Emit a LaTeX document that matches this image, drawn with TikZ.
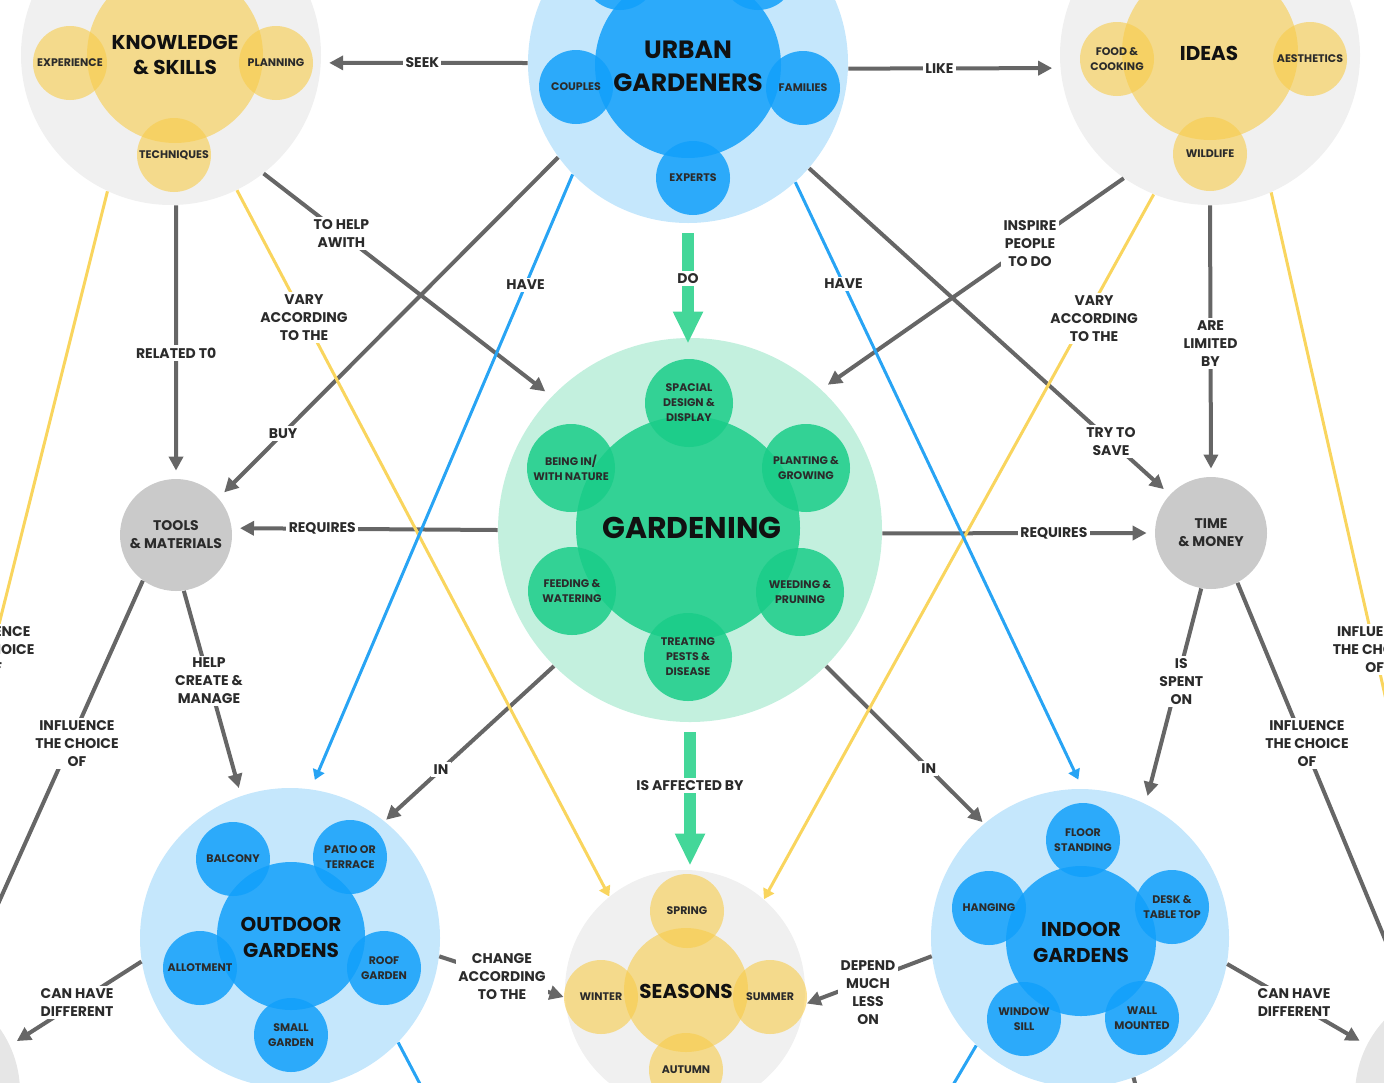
\documentclass[tikz,border=0pt]{standalone}
\usepackage{fontspec}
\setmainfont{Poppins}
\usetikzlibrary{arrows.meta}
\definecolor{greyhalo}{HTML}{F0F0F0}
\definecolor{greyside}{HTML}{E6E6E6}
\definecolor{greytool}{HTML}{CACACA}
\definecolor{bluehalo}{HTML}{C5E7FC}
\definecolor{bluecore}{HTML}{12A0FA}
\definecolor{greenhalo}{HTML}{C3F0DE}
\definecolor{greencore}{HTML}{1ACD89}
\definecolor{yellowcore}{HTML}{F8CC4A}
\definecolor{greyline}{HTML}{666666}
\definecolor{yellowline}{HTML}{F9D55E}
\definecolor{blueline}{HTML}{28A4F4}
\definecolor{greenarrow}{HTML}{44D799}
\definecolor{txtdark}{HTML}{2B2B2B}
\definecolor{txtblack}{HTML}{111111}
\newcommand{\edgefont}{\fontsize{7}{9}\selectfont\bfseries}
\newcommand{\bubblefont}{\fontsize{5.5}{7.5}\selectfont\bfseries}
\newcommand{\titlefont}[2]{\fontsize{#1}{#2}\selectfont\bfseries}
\begin{document}
\begin{tikzpicture}
[x=0.5pt,y=-0.5pt,
 halo/.style={shape=circle,inner sep=0pt,fill=#1},
 core/.style={shape=circle,inner sep=0pt,fill=#1,fill opacity=.85},
 sub/.style={shape=circle,inner sep=0pt,minimum size=37pt,fill=#1,fill opacity=.85,
   text opacity=1,text=txtdark,align=center,font=\bubblefont},
 subblue/.style={sub=bluecore},
 subgreen/.style={sub=greencore,minimum size=44pt},
 subyellow/.style={sub=yellowcore,fill opacity=.6},
 title/.style={align=center,inner sep=0pt,text=txtblack},
 lbl/.style={fill=white,inner sep=1.2pt,align=center,text=txtdark,font=\edgefont},
 greyedge/.style={draw=greyline,line width=2pt,-{Triangle[length=7pt,width=7pt]},shorten >=4pt},
 yellowedge/.style={draw=yellowline,line width=1.5pt,-{Triangle[length=5pt,width=6pt]}},
 blueedge/.style={draw=blueline,line width=1.5pt,-{Triangle[length=5pt,width=6pt]},shorten >=5pt},
 greenedge/.style={draw=greenarrow,line width=6pt,-{Triangle[length=16pt,width=14pt]},shorten <=5pt}]
\useasboundingbox (0,0) rectangle (1384,1082);
\clip (0,0) rectangle (1384,1082);
% nodes or circles
% knowledge & skills
\node (know) at (171,55) [halo=greyhalo,minimum size=150pt] {};
\node (knowcore) at (175,55) [core=yellowcore,fill opacity=.6,minimum size=88pt] {};
\node (experience) at (70,63) [subyellow] {EXPERIENCE};
\node (planning) at (276,63) [subyellow] {PLANNING};
\node (techniques) at (174,155) [subyellow] {TECHNIQUES};
\node (knowtext) at (175,55) [title,font=\titlefont{10}{12.5}] {KNOWLEDGE\\\& SKILLS};
% urban gardeners
\node (urban) at (688,63) [halo=bluehalo,minimum size=160pt] {};
\node (urbancore) at (688,65) [core=bluecore,minimum size=93pt] {};
\node (urbantopl) at (620,-27) [subblue] {};
\node (urbantopr) at (758,-27) [subblue] {};
\node (couples) at (576,87) [subblue] {COUPLES};
\node (families) at (803,88) [subblue] {FAMILIES};
\node (experts) at (693,178) [subblue] {EXPERTS};
\node (urbantext) at (688,66) [title,font=\titlefont{12.5}{16.5}] {URBAN\\GARDENERS};
% ideas
\node (ideas) at (1210,55) [halo=greyhalo,minimum size=150pt] {};
\node (ideascore) at (1210,52) [core=yellowcore,fill opacity=.6,minimum size=88pt] {};
\node (food) at (1117,59) [subyellow] {FOOD \&\\COOKING};
\node (aesthetics) at (1310,59) [subyellow] {AESTHETICS};
\node (wildlife) at (1210,154) [subyellow] {WILDLIFE};
\node (ideastext) at (1209,53) [title,font=\titlefont{10}{12.5}] {IDEAS};
% gardening
\node (garden) at (690,530) [halo=greenhalo,minimum size=192pt] {};
\node (gardencore) at (688,528) [core=greencore,minimum size=112pt] {};
\node (spacial) at (689,403) [subgreen] {SPACIAL\\DESIGN \&\\DISPLAY};
\node (planting) at (806,468) [subgreen] {PLANTING \&\\GROWING};
\node (weeding) at (800,592) [subgreen] {WEEDING \&\\PRUNING};
\node (treating) at (688,657) [subgreen] {TREATING\\PESTS \&\\DISEASE};
\node (feeding) at (572,591) [subgreen] {FEEDING \&\\WATERING};
\node (being) at (571,468) [subgreen] {BEING IN/\\WITH NATURE};
\node (gardentext) at (692,528) [title,font=\titlefont{15}{18}] {GARDENING};
% tools, time
\node (tools) at (176,535) [halo=greytool,minimum size=56pt,align=center,text=txtdark,font=\edgefont] {TOOLS\\\& MATERIALS};
\node (timem) at (1211,533) [halo=greytool,minimum size=56pt,align=center,text=txtdark,font=\edgefont] {TIME\\\& MONEY};
% outdoor gardens
\node (outdoor) at (290,938) [halo=bluehalo,minimum size=150pt] {};
\node (outdoorcore) at (291,936) [core=bluecore,minimum size=74pt] {};
\node (balcony) at (233,859) [subblue] {BALCONY};
\node (patio) at (350,857) [subblue] {PATIO OR\\TERRACE};
\node (roof) at (384,968) [subblue] {ROOF\\GARDEN};
\node (smallgarden) at (291,1035) [subblue] {SMALL\\GARDEN};
\node (allotment) at (200,968) [subblue] {ALLOTMENT};
\node (outdoortext) at (291,937) [title,font=\titlefont{10}{13}] {OUTDOOR\\GARDENS};
% seasons
\node (seasons) at (685,990) [halo=greyhalo,minimum size=120pt] {};
\node (seasonscore) at (686,990) [core=yellowcore,fill opacity=.6,minimum size=62pt] {};
\node (spring) at (687,911) [subyellow] {SPRING};
\node (winter) at (601,997) [subyellow] {WINTER};
\node (summer) at (770,997) [subyellow] {SUMMER};
\node (autumn) at (686,1070) [subyellow] {AUTUMN};
\node (seasonstext) at (686,991) [title,font=\titlefont{10}{13}] {SEASONS};
% indoor gardens
\node (indoor) at (1080,938) [halo=bluehalo,minimum size=149pt] {};
\node (indoorcore) at (1081,941) [core=bluecore,minimum size=75pt] {};
\node (floor) at (1083,840) [subblue] {FLOOR\\STANDING};
\node (hanging) at (989,908) [subblue] {HANGING};
\node (desk) at (1172,907) [subblue] {DESK \&\\TABLE TOP};
\node (window) at (1024,1019) [subblue] {WINDOW\\SILL};
\node (wall) at (1142,1018) [subblue] {WALL\\MOUNTED};
\node (indoortext) at (1081,942) [title,font=\titlefont{10}{13}] {INDOOR\\GARDENS};
% partly shown circles at the edges
\node (leftside) at (-90,1092) [halo=greyside,minimum size=110pt] {};
\node (rightside) at (1465,1095) [halo=greyside,minimum size=110pt] {};
\coordinate (offl) at (-60,860);
\coordinate (offr) at (1420,850);
\coordinate (offll) at (-45,1000);
\coordinate (offrr) at (1430,1048);
\coordinate (offout) at (460,1160);
\coordinate (offin) at (906,1165);
\coordinate (offin2) at (1160,1180);
% edges or lines
\path
(urban.180) edge[greyedge] node[lbl,pos=.51] {SEEK} (know.-3)
(urban.-2) edge[greyedge] node[lbl,pos=.43] {LIKE} (ideas.185)
(know.-88) edge[greyedge] node[lbl,pos=.54] {RELATED T0} (tools.north)
(know.-52) edge[greyedge] node[lbl,pos=.27] {TO HELP\\AWITH} (garden.136)
(urban.216) edge[greyedge] node[lbl,pos=.81] {BUY} (tools.41)
(urban.-41) edge[greyedge] node[lbl,pos=.837] {TRY TO\\SAVE} (timem.137)
(ideas.235) edge[greyedge] node[lbl,pos=.31] {INSPIRE\\PEOPLE\\TO DO} (garden.47)
(ideas.south) edge[greyedge] node[lbl,pos=.51] {ARE\\LIMITED\\BY} (timem.north)
(garden.180.5) edge[greyedge] node[lbl,pos=.66] {REQUIRES} (tools.7)
(garden.-1) edge[greyedge] node[lbl,pos=.63] {REQUIRES} (timem.west)
(garden.225) edge[greyedge,shorten >=1pt] node[lbl,pos=.667] {IN} (outdoor.51)
(garden.-45) edge[greyedge,shorten >=1pt] node[lbl,pos=.65] {IN} (indoor.130)
(tools.-82) edge[greyedge] node[lbl,pos=.44] {HELP\\CREATE \&\\MANAGE} (outdoor.109)
(tools.234) edge[greyedge] node[lbl,pos=.388,xshift=3.5pt] {INFLUENCE\\THE CHOICE\\OF} (offll)
(timem.260) edge[greyedge] node[lbl,pos=.43,xshift=2pt] {IS\\SPENT\\ON} (indoor.64)
(timem.-62) edge[greyedge] node[lbl,pos=.345,xshift=1.5pt] {INFLUENCE\\THE CHOICE\\OF} (offrr)
(outdoor.189) edge[greyedge] node[lbl,pos=.49] {CAN HAVE\\DIFFERENT} (leftside.25)
(indoor.-10) edge[greyedge] node[lbl,pos=.48] {CAN HAVE\\DIFFERENT} (rightside.153)
(outdoor.-7) edge[greyedge,shorten >=0pt] node[lbl,pos=.504] {CHANGE\\ACCORDING\\TO THE} (winter.west)
(indoor.187) edge[greyedge,shorten >=0pt] node[lbl,pos=.51,yshift=-6pt] {DEPEND\\MUCH\\LESS\\ON} (summer.-10)
(indoor.-69) edge[greyedge] (offin2)
(know.-64) edge[yellowedge] node[lbl,pos=.18] {VARY\\ACCORDING\\TO THE} (seasons.129)
(ideas.248) edge[yellowedge] node[lbl,pos=.176,xshift=4.5pt] {VARY\\ACCORDING\\TO THE} (seasons.49)
(know.245) edge[yellowedge] node[lbl,pos=.685] {INFLUENCE\\THE CHOICE\\OF} (offl)
(ideas.-66) edge[yellowedge] node[lbl,pos=.695] {INFLUENCE\\THE CHOICE\\OF} (offr)
(urban.224) edge[blueedge] node[lbl,pos=.18] {HAVE} (outdoor.82)
(urban.-48) edge[blueedge] node[lbl,pos=.168] {HAVE} (indoor.89)
(outdoor.-44) edge[blueedge] (offout)
(indoor.226) edge[blueedge] (offin)
(urban.south) edge[greenedge,shorten >=-3pt] node[lbl,pos=.48] {DO} (urban.south |- garden.north)
(garden.south) edge[greenedge,shorten >=2pt] node[lbl,pos=.43] {IS AFFECTED BY} (garden.south |- seasons.north);
\end{tikzpicture}
\end{document}
